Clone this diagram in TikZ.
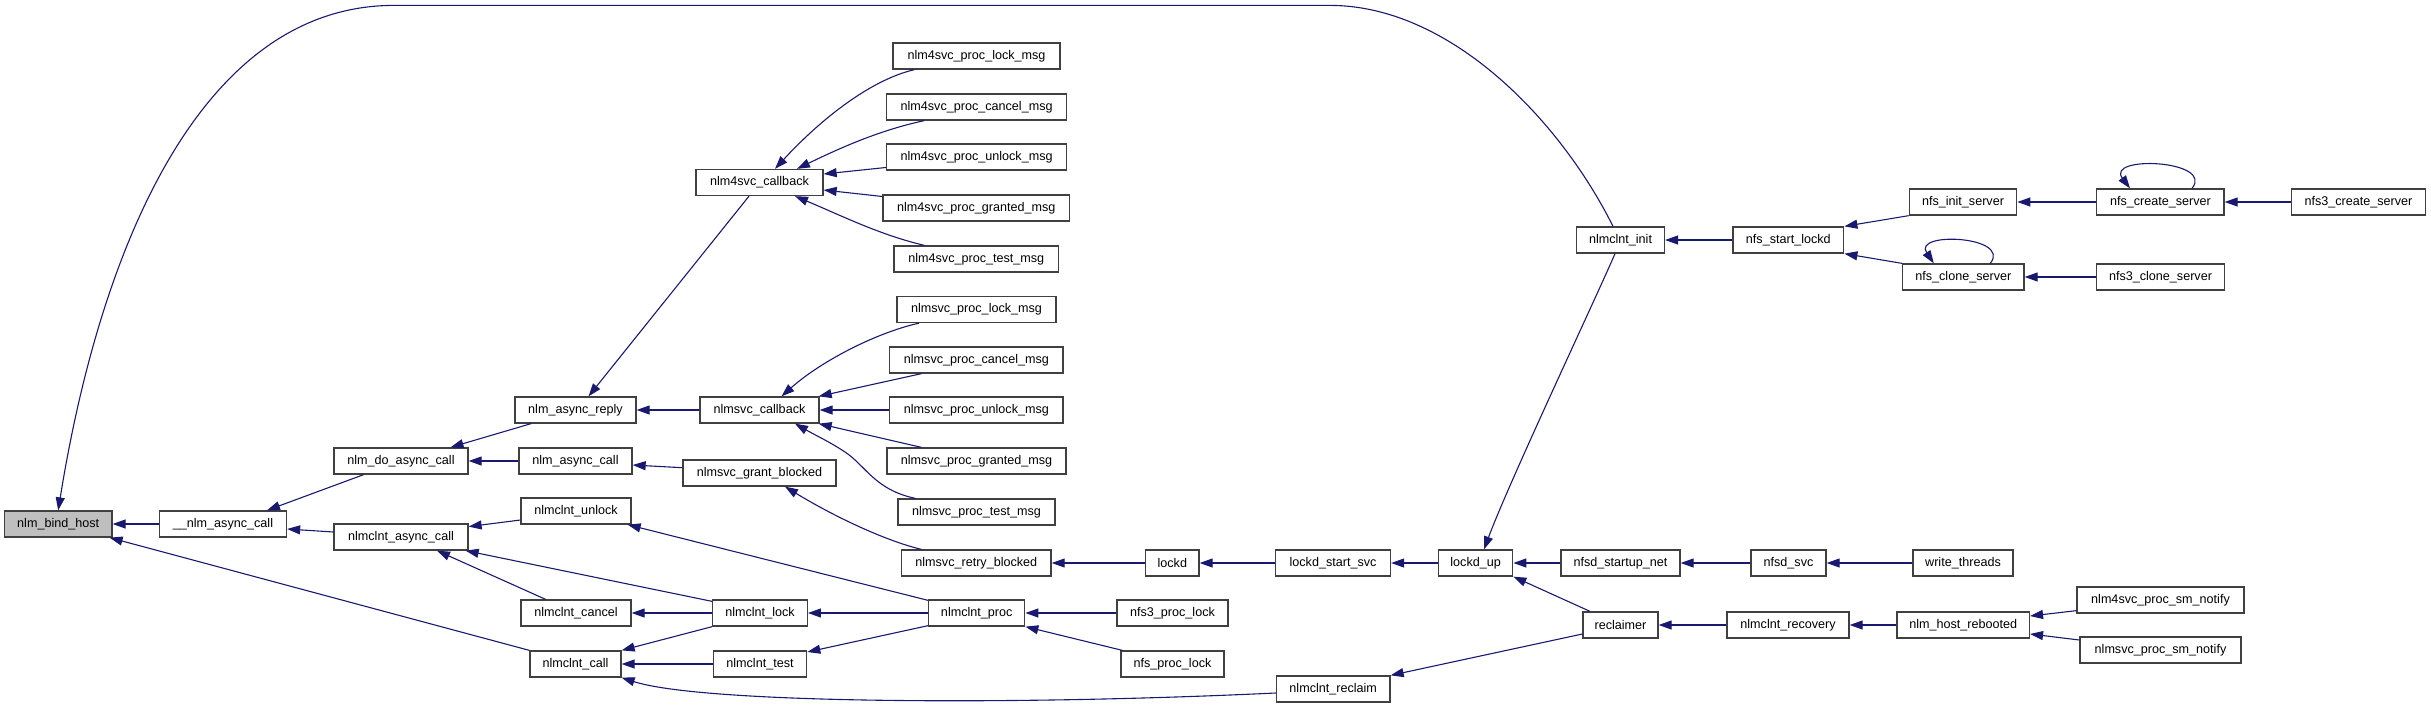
\documentclass[tikz,border=0pt]{standalone}
\usepackage{fontspec}
\setmainfont{Liberation Sans}
\usetikzlibrary{arrows.meta}
\definecolor{edgeblue}{HTML}{191970}
\definecolor{boxline}{HTML}{404040}
\definecolor{hilite}{HTML}{BFBFBF}
\begin{document}
\begin{tikzpicture}[x=1pt,y=-1pt,
  fn/.style={draw=boxline, line width=1.3pt, fill=white, minimum height=26pt, inner sep=0pt,
    font=\fontsize{12.6}{14}\selectfont, text=black},
  edge/.style={draw=edgeblue, line width=1.1pt, -{Triangle[length=13pt,width=9pt]}}]
\useasboundingbox (0,0) rectangle (2431,710);
% column 0-2
\node[fn, fill=hilite, minimum width=107.5pt] (bind) at (58.2,524) {nlm\_bind\_host};
\node[fn, minimum width=127pt] (nac) at (223,524) {\_\_nlm\_async\_call};
\node[fn, minimum width=134pt] (ndac) at (401,461) {nlm\_do\_async\_call};
\node[fn, minimum width=134pt] (ncac) at (401,537) {nlmclnt\_async\_call};
% column 3
\node[fn, minimum width=121pt] (nar) at (575.5,410) {nlm\_async\_reply};
\node[fn, minimum width=113pt] (nacall) at (575.5,461) {nlm\_async\_call};
\node[fn, minimum width=110pt] (nunlock) at (576,511) {nlmclnt\_unlock};
\node[fn, minimum width=110pt] (ncancel) at (576,613) {nlmclnt\_cancel};
\node[fn, minimum width=91pt] (ncall) at (575.5,664) {nlmclnt\_call};
% column 4
\node[fn, minimum width=127pt] (n4cb) at (759.5,182.5) {nlm4svc\_callback};
\node[fn, minimum width=119pt] (nscb) at (759.5,410) {nlmsvc\_callback};
\node[fn, minimum width=153pt] (ngrant) at (759.5,473) {nlmsvc\_grant\_blocked};
\node[fn, minimum width=94.6pt] (nlock) at (760,613) {nlmclnt\_lock};
\node[fn, minimum width=93.4pt] (ntest) at (760,664) {nlmclnt\_test};
% column 5
\node[fn, minimum width=167pt] (p4lock) at (976.5,56) {nlm4svc\_proc\_lock\_msg};
\node[fn, minimum width=180.3pt] (p4cancel) at (976.6,107) {nlm4svc\_proc\_cancel\_msg};
\node[fn, minimum width=180.3pt] (p4unlock) at (976.6,157) {nlm4svc\_proc\_unlock\_msg};
\node[fn, minimum width=186.5pt] (p4granted) at (976.3,208) {nlm4svc\_proc\_granted\_msg};
\node[fn, minimum width=164.6pt] (p4test) at (976.3,259) {nlm4svc\_proc\_test\_msg};
\node[fn, minimum width=159pt] (pslock) at (976.5,309.5) {nlmsvc\_proc\_lock\_msg};
\node[fn, minimum width=173.3pt] (pscancel) at (976.4,360) {nlmsvc\_proc\_cancel\_msg};
\node[fn, minimum width=173.3pt] (psunlock) at (976.4,410) {nlmsvc\_proc\_unlock\_msg};
\node[fn, minimum width=179pt] (psgranted) at (976.5,461) {nlmsvc\_proc\_granted\_msg};
\node[fn, minimum width=157pt] (pstest) at (976.5,512) {nlmsvc\_proc\_test\_msg};
\node[fn, minimum width=149.5pt] (retry) at (976.3,563) {nlmsvc\_retry\_blocked};
\node[fn, minimum width=96pt] (nproc) at (976.7,613) {nlmclnt\_proc};
% column 6
\node[fn, minimum width=53.4pt] (lockd) at (1172.3,563) {lockd};
\node[fn, minimum width=111pt] (nfs3lock) at (1172.5,613) {nfs3\_proc\_lock};
\node[fn, minimum width=103pt] (nfslock) at (1172.5,664) {nfs\_proc\_lock};
% column 7
\node[fn, minimum width=115pt] (lstart) at (1333,563) {lockd\_start\_svc};
\node[fn, minimum width=113.6pt] (nreclaim) at (1333.2,689) {nlmclnt\_reclaim};
% column 8
\node[fn, minimum width=74.2pt] (lockdup) at (1475.6,563) {lockd\_up};
% column 9
\node[fn, minimum width=87.8pt] (ninit) at (1620.5,240) {nlmclnt\_init};
\node[fn, minimum width=119pt] (startnet) at (1620.5,563) {nfsd\_startup\_net};
\node[fn, minimum width=75pt] (reclaimer) at (1620.5,625) {reclaimer};
% column 10
\node[fn, minimum width=110.9pt] (startlockd) at (1788.3,240) {nfs\_start\_lockd};
\node[fn, minimum width=75pt] (nfsdsvc) at (1788.5,563) {nfsd\_svc};
\node[fn, minimum width=122pt] (recovery) at (1788,625) {nlmclnt\_recovery};
% column 11
\node[fn, minimum width=107.3pt] (initserver) at (1963,202) {nfs\_init\_server};
\node[fn, minimum width=121.4pt] (cloneserver) at (1963.3,277) {nfs\_clone\_server};
\node[fn, minimum width=100pt] (writethreads) at (1963,563) {write\_threads};
\node[fn, minimum width=132.4pt] (rebooted) at (1963.2,625) {nlm\_host\_rebooted};
% column 12
\node[fn, minimum width=127.2pt] (createserver) at (2160.4,202) {nfs\_create\_server};
\node[fn, minimum width=128pt] (clone3) at (2160.5,277) {nfs3\_clone\_server};
\node[fn, minimum width=167pt] (sm4) at (2160.5,600) {nlm4svc\_proc\_sm\_notify};
\node[fn, minimum width=161pt] (sms) at (2160.5,650) {nlmsvc\_proc\_sm\_notify};
% column 13
\node[fn, minimum width=134pt] (create3) at (2358.5,202) {nfs3\_create\_server};

% edges
\draw[edge] (nac.west) -- (bind.east);
\draw[edge] ([shift={(-7.5,0)}]ninit.north) .. controls (1560,120) and (1450,5.4) .. (1330,5.4)
  -- (394,5.4) .. controls (200,5.4) and (100,250) .. (bind.north);
\draw[edge] (ncall.north west) -- ([shift={(-3,0)}]bind.south east);
\draw[edge] ([shift={(-37.4,0)}]ndac.south) -- ([shift={(44,0)}]nac.north);
\draw[edge] ([shift={(0,-5)}]ncac.west) -- ([shift={(0,5)}]nac.east);
\draw[edge] ([shift={(-44.5,0)}]nar.south) -- ([shift={(49.5,0)}]ndac.north);
\draw[edge] (nacall.west) -- (ndac.east);
\draw[edge] ([shift={(0,9)}]nunlock.west) -- ([shift={(0,-10.4)}]ncac.east);
\draw[edge] ([shift={(-30.4,0)}]ncancel.north) -- ([shift={(36,0)}]ncac.south);
\draw[edge] ([shift={(0,2)}]nlock.north west) -- ([shift={(-3,0)}]ncac.south east);
\draw[edge] (nlock.south west) -- (ncall.north east);
\draw[edge] (ntest.west) -- (ncall.east);
\draw[edge] ([shift={(0,4)}]nreclaim.west) .. controls (1000,706) and (700,703) .. (ncall.south east);
\draw[edge] ([shift={(-10.5,0)}]n4cb.south) -- ([shift={(13,0)}]nar.north);
\draw[edge] (nscb.west) -- (nar.east);
\draw[edge] ([shift={(0,-5.3)}]ngrant.west) -- ([shift={(0,4)}]nacall.east);
\draw[edge] ([shift={(22,0)}]p4lock.south west) .. controls (870,80) and (820,120) .. ([shift={(15.5,0)}]n4cb.north);
\draw[edge] ([shift={(38.5,0)}]p4cancel.south west) .. controls (880,130) and (840,148) .. ([shift={(37.5,0)}]n4cb.north);
\draw[edge] ([shift={(0,10.5)}]p4unlock.west) -- ([shift={(0,-8.5)}]n4cb.east);
\draw[edge] ([shift={(0,-11.5)}]p4granted.west) -- ([shift={(0,7.5)}]n4cb.east);
\draw[edge] ([shift={(31,0)}]p4test.north west) .. controls (880,235) and (840,215) .. ([shift={(35.5,0)}]n4cb.south);
\draw[edge] ([shift={(22.6,0)}]pslock.south west) .. controls (875,333) and (820,362) .. ([shift={(22,0)}]nscb.north);
\draw[edge] ([shift={(32.3,0)}]pscancel.south west) -- ([shift={(-1,0)}]nscb.north east);
\draw[edge] (psunlock.west) -- (nscb.east);
\draw[edge] ([shift={(35,0)}]psgranted.north west) -- ([shift={(-1,0)}]nscb.south east);
\draw[edge] ([shift={(18,0)}]pstest.north west) .. controls (875,490) and (865,465) .. (845,452)
  .. controls (830,442) and (815,435) .. ([shift={(35.5,0)}]nscb.south);
\draw[edge] ([shift={(20.5,0)}]retry.north west) .. controls (890,542) and (840,520) .. ([shift={(25.5,0)}]ngrant.south);
\draw[edge] (lockd.west) -- (retry.east);
\draw[edge] (lstart.west) -- (lockd.east);
\draw[edge] (lockdup.west) -- (lstart.east);
\draw[edge] ([shift={(0,1)}]nproc.north west) -- ([shift={(-4,0)}]nunlock.south east);
\draw[edge] (nproc.west) -- (nlock.east);
\draw[edge] ([shift={(0,-1)}]nproc.south west) -- ([shift={(0,-12)}]ntest.east);
\draw[edge] (nfs3lock.west) -- (nproc.east);
\draw[edge] ([shift={(2,0)}]nfslock.north west) -- (nproc.south east);
\draw[edge] ([shift={(-5.5,0)}]ninit.south) .. controls (1595,300) and (1510,480) .. ([shift={(8.4,0)}]lockdup.north);
\draw[edge] (startlockd.west) -- (ninit.east);
\draw[edge] (initserver.south west) -- (startlockd.north east);
\draw[edge] (cloneserver.north west) -- (startlockd.south east);
\draw[edge] (createserver.west) -- (initserver.east);
\draw[edge] (create3.west) -- (createserver.east);
\draw[edge] ([shift={(31.6,0)}]createserver.north) .. controls (2215,160) and (2105,155) .. ([shift={(-30.4,0)}]createserver.north);
\draw[edge] ([shift={(27,0)}]cloneserver.north) .. controls (2012,236) and (1912,231) .. ([shift={(-29.5,0)}]cloneserver.north);
\draw[edge] (clone3.west) -- (cloneserver.east);
\draw[edge] (startnet.west) -- (lockdup.east);
\draw[edge] (nfsdsvc.west) -- (startnet.east);
\draw[edge] (writethreads.west) -- (nfsdsvc.east);
\draw[edge] ([shift={(-30.5,0)}]reclaimer.north) -- (lockdup.south east);
\draw[edge] ([shift={(0,9)}]reclaimer.west) -- (nreclaim.north east);
\draw[edge] (recovery.west) -- (reclaimer.east);
\draw[edge] (rebooted.west) -- (recovery.east);
\draw[edge] ([shift={(0,-3)}]sm4.south west) -- ([shift={(0,-9)}]rebooted.east);
\draw[edge] ([shift={(0,-10)}]sms.west) -- ([shift={(0,9)}]rebooted.east);
\draw[edge] (nlock.west) -- (ncancel.east);
\end{tikzpicture}
\end{document}
